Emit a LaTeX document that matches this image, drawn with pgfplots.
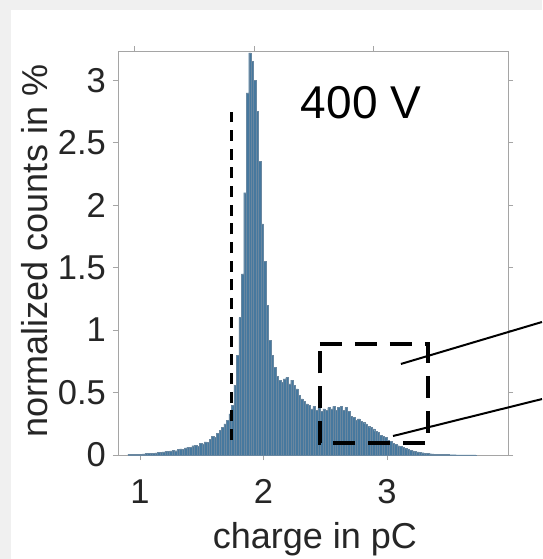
\documentclass[border=0pt]{standalone}
\usepackage{fontspec}
\setmainfont{Liberation Sans}
\usepackage{pgfplots}
\pgfplotsset{compat=1.18}
\definecolor{txt}{RGB}{38,38,38}
\definecolor{axgray}{RGB}{165,165,165}
\definecolor{barblue}{RGB}{70,120,158}
\definecolor{baredge}{RGB}{105,135,160}
\definecolor{bggray}{RGB}{240,240,240}
\begin{document}
\begin{tikzpicture}[x=1pt,y=1pt]
\useasboundingbox (0,0) rectangle (542,559);
\fill[bggray] (0,0) rectangle (542,559);
\fill[white] (11,0) rectangle (542,549);
\begin{axis}[
  at={(118pt,104pt)}, anchor=south west,
  width=390pt, height=404pt, scale only axis,
  xmin=0.822, xmax=3.98, ymin=0, ymax=3.235,
  xtick={1,2,3}, xticklabels={1,2,3},
  ytick={0,0.5,1,1.5,2,2.5,3}, yticklabels={0,0.5,1,1.5,2,2.5,3},
  xtick pos=left, ytick pos=both,
  tick align=outside, major tick length=5pt,
  axis line style={axgray, line width=0.8pt},
  tick style={axgray, line width=0.8pt},
  ticklabel style={font=\fontsize{34.5}{41}\selectfont, text=txt},
  xticklabel style={anchor=base, yshift=-43pt},
  yticklabel style={anchor=east, inner sep=0pt, xshift=-7pt},
  label style={font=\fontsize{36}{43}\selectfont, text=txt},
  xlabel={charge in pC}, ylabel={normalized counts in \%},
  xlabel style={at={(axis description cs:0.505,-0.232)}, anchor=base},
  ylabel style={at={(axis description cs:-0.182,0.505)}, anchor=base},
  clip=false,
]
\addplot[ybar interval, fill=barblue, draw=baredge, line width=0.25pt] table {
x y
0.90 0.003
0.92 0.004
0.94 0.004
0.96 0.005
0.98 0.006
1.00 0.008
1.02 0.010
1.04 0.012
1.06 0.012
1.08 0.015
1.10 0.016
1.12 0.018
1.14 0.020
1.16 0.022
1.18 0.025
1.20 0.028
1.22 0.030
1.24 0.034
1.26 0.038
1.28 0.035
1.30 0.048
1.32 0.050
1.34 0.045
1.36 0.058
1.38 0.064
1.40 0.060
1.42 0.075
1.44 0.080
1.46 0.072
1.48 0.095
1.50 0.090
1.52 0.105
1.54 0.100
1.56 0.125
1.58 0.150
1.60 0.140
1.62 0.175
1.64 0.20
1.66 0.22
1.68 0.25
1.70 0.28
1.72 0.33
1.74 0.40
1.76 0.56
1.78 0.80
1.80 1.10
1.82 1.45
1.84 2.10
1.86 2.90
1.88 3.22
1.90 3.15
1.92 3.00
1.94 2.75
1.96 2.35
1.98 1.85
2.00 1.55
2.02 1.20
2.04 0.92
2.06 0.80
2.08 0.70
2.10 0.63
2.12 0.60
2.14 0.58
2.16 0.61
2.18 0.62
2.20 0.57
2.22 0.60
2.24 0.56
2.26 0.53
2.28 0.48
2.30 0.45
2.32 0.43
2.34 0.41
2.36 0.40
2.38 0.37
2.40 0.39
2.42 0.36
2.44 0.38
2.46 0.35
2.48 0.37
2.50 0.36
2.52 0.38
2.54 0.37
2.56 0.39
2.58 0.36
2.60 0.38
2.62 0.39
2.64 0.36
2.66 0.38
2.68 0.35
2.70 0.31
2.72 0.30
2.74 0.28
2.76 0.29
2.78 0.27
2.80 0.26
2.82 0.25
2.84 0.23
2.86 0.22
2.88 0.21
2.90 0.19
2.92 0.18
2.94 0.16
2.96 0.15
2.98 0.14
3.00 0.12
3.02 0.11
3.04 0.095
3.06 0.085
3.08 0.075
3.10 0.068
3.12 0.060
3.14 0.052
3.16 0.046
3.18 0.040
3.20 0.034
3.22 0.030
3.24 0.026
3.26 0.022
3.28 0.019
3.30 0.016
3.32 0.013
3.34 0.011
3.36 0.009
3.38 0.007
3.40 0.006
3.42 0.005
3.44 0.004
3.46 0.003
3.48 0.003
3.50 0.002
3.52 0.002
3.54 0.002
3.56 0.001
3.58 0.001
3.60 0.001
3.62 0.001
3.64 0.001
3.66 0.001
3.68 0.001
3.70 0.001
3.72 0
};
% dashed threshold line
\addplot[black, line width=2.6pt, dash pattern=on 11pt off 7.7pt] coordinates {(1.742,0.12) (1.742,2.746)};
% dashed zoom rectangle
\addplot[black, line width=4pt, dash pattern=on 22pt off 13pt] coordinates {(2.457,0.89) (3.332,0.89) (3.332,0.096) (2.457,0.096) (2.457,0.89)};
% connector lines
\addplot[black, line width=2pt] coordinates {(3.113,0.729) (4.255,1.065)};
\addplot[black, line width=2pt] coordinates {(3.049,0.152) (4.255,0.448)};
% top ticks of the overlaid axes
\draw[axgray, line width=0.8pt] (axis cs:0.951,3.235) -- ++(0pt,5pt);
\draw[axgray, line width=0.8pt] (axis cs:1.923,3.235) -- ++(0pt,5pt);
\draw[axgray, line width=0.8pt] (axis cs:2.887,3.235) -- ++(0pt,5pt);
\node[font=\fontsize{46}{55}\selectfont, text=black] at (axis cs:2.79,2.82) {400 V};
\end{axis}
\end{tikzpicture}
\end{document}
